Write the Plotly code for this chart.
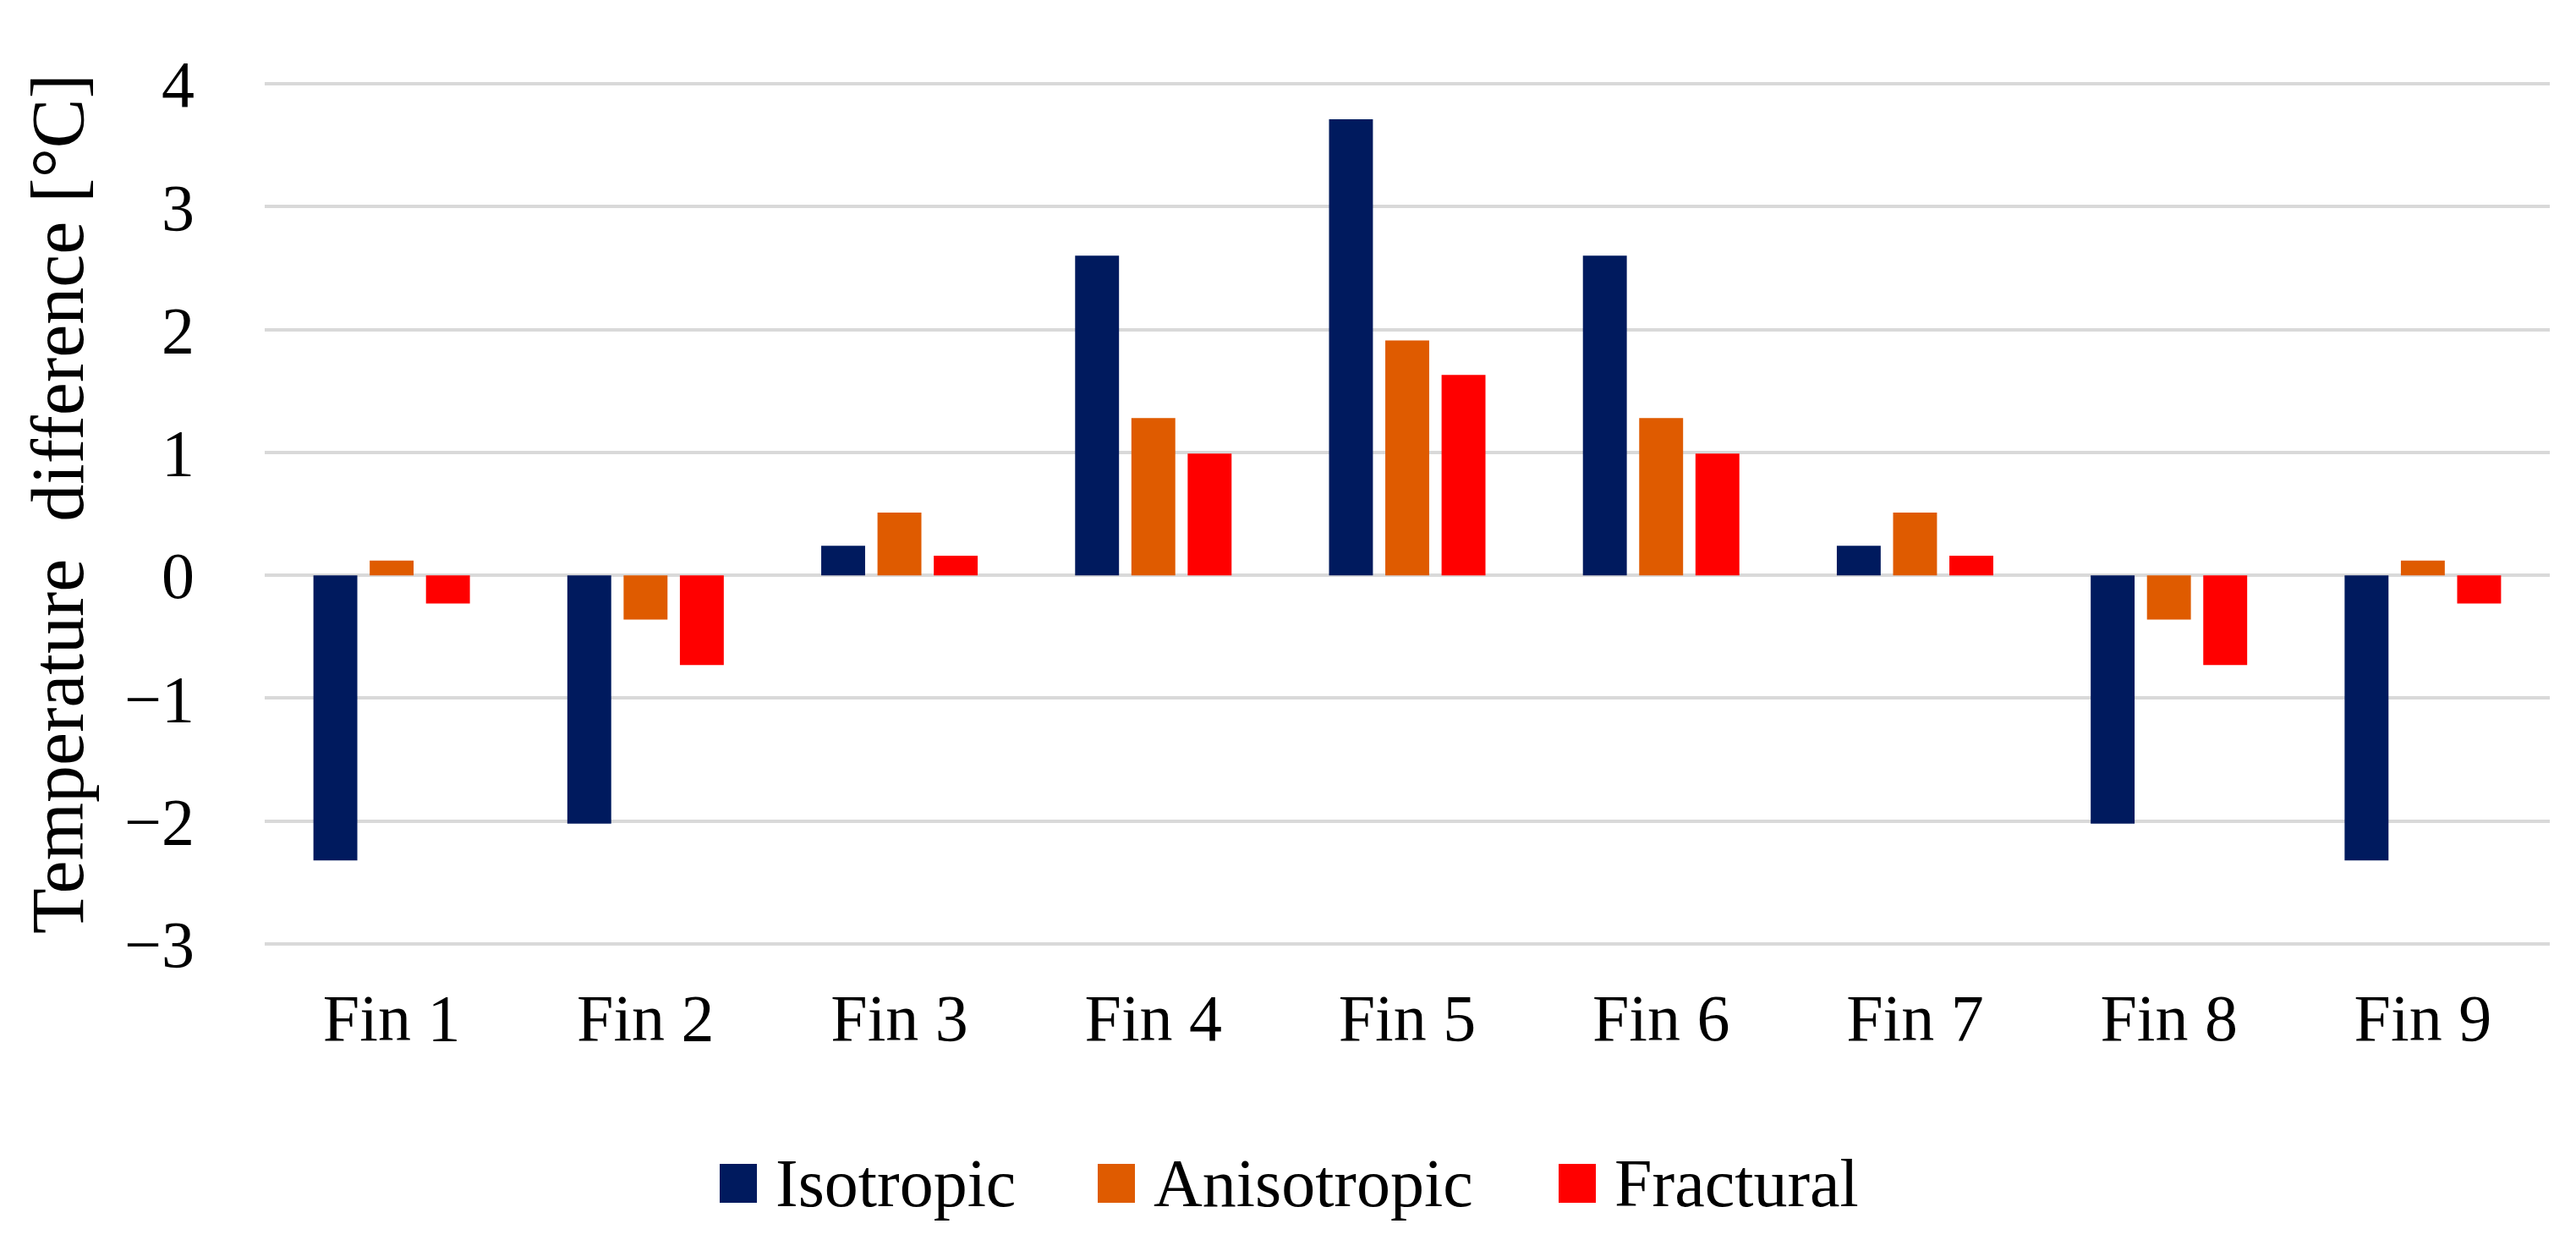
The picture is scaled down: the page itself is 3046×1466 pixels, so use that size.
import plotly.graph_objects as go

# ---- data ----
categories = ["Fin 1", "Fin 2", "Fin 3", "Fin 4", "Fin 5", "Fin 6", "Fin 7", "Fin 8", "Fin 9"]
isotropic = [-2.32, -2.02, 0.24, 2.60, 3.71, 2.60, 0.24, -2.02, -2.32]
anisotropic = [0.12, -0.36, 0.51, 1.28, 1.91, 1.28, 0.51, -0.36, 0.12]
fractural = [-0.23, -0.73, 0.16, 0.99, 1.63, 0.99, 0.16, -0.73, -0.23]
series_names = ["Isotropic", "Anisotropic", "Fractural"]
series_colors = ["#001A5E", "#DF5B00", "#FF0000"]
y_ticks = [-3, -2, -1, 0, 1, 2, 3, 4]

W, H = 3046, 1466
L, R, T, B = 305, 39, 88, 355
FONT = "Liberation Serif"
FS = 78

fig = go.Figure()
for name, vals, col in zip(series_names, [isotropic, anisotropic, fractural], series_colors):
    fig.add_trace(go.Bar(x=categories, y=vals, name=name, marker=dict(color=col, line=dict(width=0)),
                         showlegend=False))

plot_w = W - L - R
plot_h = H - T - B

def px_x(px):
    return (px - L) / plot_w

def px_y(py):
    return (H - B - py) / plot_h

# custom legend (large square swatches like the original)
legend_marker_left = [843, 1290, 1835]
sw, sh = 44, 46
legend_cy = 1391
shapes = []
annotations = []
for name, col, mx in zip(series_names, series_colors, legend_marker_left):
    shapes.append(dict(type="rect", xref="paper", yref="paper",
                       x0=px_x(mx), x1=px_x(mx + sw),
                       y0=px_y(legend_cy + sh / 2), y1=px_y(legend_cy - sh / 2),
                       fillcolor=col, line=dict(width=0), layer="above"))
    annotations.append(dict(xref="paper", yref="paper", x=px_x(mx + sw + 20), y=px_y(legend_cy),
                            xanchor="left", yanchor="middle", text=name, showarrow=False,
                            font=dict(family=FONT, size=80, color="#000000")))

# y-axis title
annotations.append(dict(xref="paper", yref="paper", x=px_x(60), y=px_y(588),
                        xanchor="center", yanchor="middle", textangle=-90,
                        text="Temperature  difference [°C]", showarrow=False,
                        font=dict(family=FONT, size=88, color="#000000")))

fig.update_layout(
    width=W, height=H,
    margin=dict(l=L, r=R, t=T, b=B, autoexpand=False),
    paper_bgcolor="white", plot_bgcolor="white",
    barmode="group", bargap=0.335, bargroupgap=0.22,
    font=dict(family=FONT, size=FS, color="#000000"),
    shapes=shapes, annotations=annotations,
    showlegend=False,
)
fig.update_xaxes(showgrid=False, zeroline=False, showline=False, ticks="",
                 ticklabelstandoff=32, tickfont=dict(family=FONT, size=FS, color="#000000"))
fig.update_yaxes(range=[-3.02, 4.02], tickvals=y_ticks, showgrid=True, gridcolor="#D9D9D9", gridwidth=4,
                 zeroline=True, zerolinecolor="#D9D9D9", zerolinewidth=4, showline=False, ticks="",
                 ticklabelstandoff=82, tickfont=dict(family=FONT, size=FS, color="#000000"))

fig.write_html("out.html")
